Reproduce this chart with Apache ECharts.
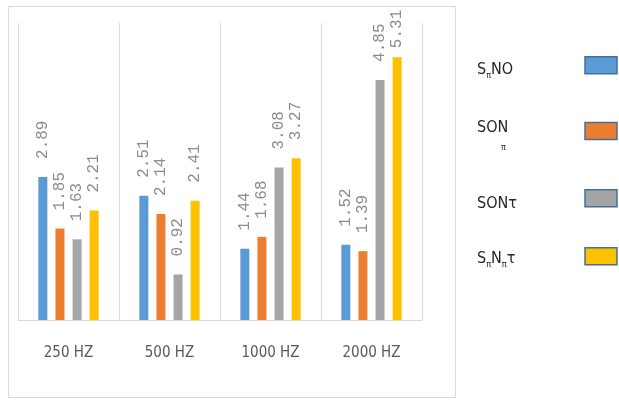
<!DOCTYPE html>
<html><head><meta charset="utf-8">
<script src="https://cdn.jsdelivr.net/npm/echarts@6/dist/echarts.min.js"></script>
<style>html,body{margin:0;padding:0;background:#fff}#c{width:619px;height:402px}</style>
</head><body><div id="c"></div>
<script>
const categories = ['250 HZ', '500 HZ', '1000 HZ', '2000 HZ'];
const seriesNames = ['SπNO', 'SONπ', 'SONτ', 'SπNπτ'];
const sPiNO = [2.89, 2.51, 1.44, 1.52];
const sONPi = [1.85, 2.14, 1.68, 1.39];
const sONTau = [1.63, 0.92, 3.08, 4.85];
const sPiNPiTau = [2.21, 2.41, 3.27, 5.31];
const colors = ['#5B9BD5', '#ED7D31', '#A5A5A5', '#FFC000'];
const legendRich = {
  'SπNO': '{a|S}{s|π}{a|NO}',
  'SONπ': '{a|SON}\n{p|π}',
  'SONτ': '{a|SONτ}',
  'SπNπτ': '{a|S}{s|π}{a|N}{s|π}{a|τ}'
};
const legendTops = [56, 120, 189, 247];
const legendTextShift = [5, 4, 6, 3];
const font = '"DejaVu Sans Condensed","Liberation Sans Narrow",sans-serif';

const chart = echarts.init(document.getElementById('c'));
const allData = [sPiNO, sONPi, sONTau, sPiNPiTau];
chart.setOption({
  animation: false,
  backgroundColor: '#fff',
  graphic: [{type: 'rect', shape: {x: 8.5, y: 6.5, width: 447, height: 391}, style: {fill: 'none', stroke: '#d9d9d9', lineWidth: 1}, z: -1}],
  grid: {left: 18, right: 197, top: 23, bottom: 82},
  legend: seriesNames.map((n, i) => ({
    data: [n], left: 477, top: legendTops[i], orient: 'vertical', align: 'right', padding: 0,
    icon: 'rect', itemWidth: 32, itemHeight: 17, itemGap: 0,
    itemStyle: {borderColor: '#41719C', borderWidth: 1.5},
    formatter: name => legendRich[name],
    textStyle: {width: 103, overflow: 'none', color: '#262626', fontFamily: font, fontSize: 16,
      padding: [legendTextShift[i] * 2, 0, 0, 0],
      rich: {
        a: {fontFamily: font, fontSize: 16, color: '#262626', align: 'left', lineHeight: 20},
        s: {fontFamily: font, fontSize: 9, color: '#262626', padding: [10, 0, 0, 0], align: 'left'},
        p: {fontFamily: font, fontSize: 9, color: '#262626', padding: [6, 0, 0, 24], align: 'left', lineHeight: 14}
      }}
  })),
  xAxis: {
    type: 'category', data: categories,
    axisLine: {lineStyle: {color: '#d9d9d9'}},
    axisTick: {show: false},
    splitLine: {show: true, lineStyle: {color: '#d9d9d9'}},
    axisLabel: {margin: 26, color: '#595959', fontSize: 15, fontFamily: font}
  },
  yAxis: {type: 'value', min: 0, max: 6, show: false, splitLine: {show: false}},
  series: seriesNames.map((n, i) => ({
    name: n, type: 'bar',
    data: allData[i].map(v => v > 5 ? {value: v, label: {distance: 7}} : v),
    barWidth: 9, barGap: '90%',
    itemStyle: {color: colors[i]},
    label: {show: true, position: 'top', rotate: 90, align: 'left', verticalAlign: 'middle',
      distance: 16, color: '#8c8c8c', fontSize: 16, fontFamily: '"Liberation Mono",monospace', offset: [2, 0]}
  }))
});
</script></body></html>
